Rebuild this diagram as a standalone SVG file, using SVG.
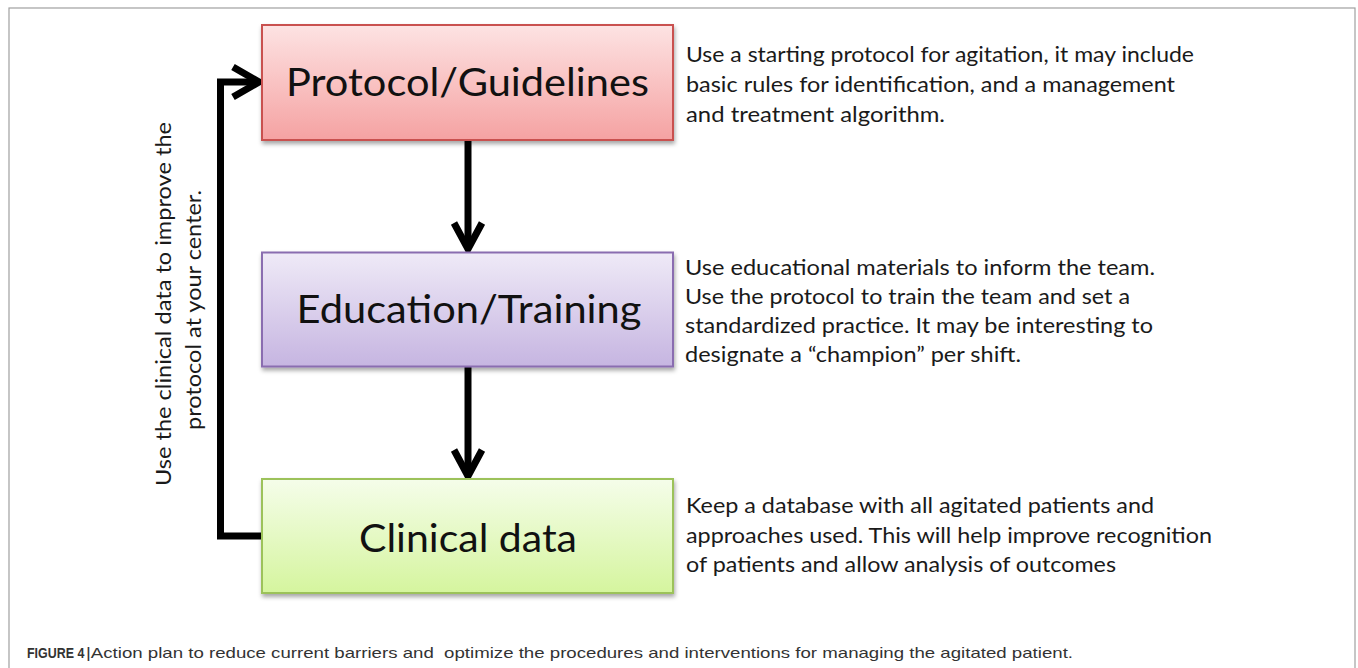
<svg xmlns="http://www.w3.org/2000/svg" width="1358" height="668" viewBox="0 0 1358 668">
<defs>
<linearGradient id="gRed" x1="0" y1="0" x2="0" y2="1"><stop offset="0" stop-color="#fde3e3"/><stop offset="1" stop-color="#f5a2a2"/></linearGradient>
<linearGradient id="gPur" x1="0" y1="0" x2="0" y2="1"><stop offset="0" stop-color="#efeaf7"/><stop offset="1" stop-color="#c6b5e1"/></linearGradient>
<linearGradient id="gGrn" x1="0" y1="0" x2="0" y2="1"><stop offset="0" stop-color="#f5fdea"/><stop offset="1" stop-color="#d5f59e"/></linearGradient>
<filter id="sh" x="-5%" y="-10%" width="115%" height="130%"><feDropShadow dx="1" dy="3" stdDeviation="2" flood-color="#000" flood-opacity="0.35"/></filter>
</defs>
<style>
.box{stroke-width:2}
.lbl{font-family:Lato,"Open Sans","Liberation Sans",sans-serif;font-size:38px;fill:#111;text-anchor:middle}
.desc{font-family:Lato,"Open Sans","Liberation Sans",sans-serif;font-size:22px;fill:#1a1a1a}
.vt{font-family:Lato,"Open Sans","Liberation Sans",sans-serif;font-size:22px;fill:#1a1a1a;text-anchor:middle}
.cap{font-family:"Liberation Sans",Arial,sans-serif;font-size:15px;fill:#333;white-space:pre}
.conn{fill:none;stroke:#000;stroke-width:7;stroke-linejoin:miter}
</style>
<rect width="1358" height="668" fill="#fff"/>
<rect x="9" y="8" width="1346" height="680" fill="none" stroke="#a0a0a0" stroke-width="1.2"/>

<g id="connectors">
<path class="conn" d="M468,140 V248"/>
<path class="conn" d="M454,223 L468,249 L482,223"/>
<path class="conn" d="M468,367 V475"/>
<path class="conn" d="M454,450 L468,476 L482,450"/>
<path class="conn" d="M262,536 H220.5 V82 H257"/>
<path class="conn" d="M233,67 L259,82 L233,97"/>
</g>

<g id="node-protocol">
<rect class="box" x="262" y="25" width="411" height="115" fill="url(#gRed)" stroke="#c9514f" filter="url(#sh)"/>
<text class="lbl" x="467.5" y="96" textLength="363" lengthAdjust="spacingAndGlyphs">Protocol/Guidelines</text>
</g>
<g id="node-education">
<rect class="box" x="262" y="252.5" width="411" height="114" fill="url(#gPur)" stroke="#8a6db0" filter="url(#sh)"/>
<text class="lbl" x="469" y="323" textLength="345" lengthAdjust="spacingAndGlyphs">Education/Training</text>
</g>
<g id="node-clinical">
<rect class="box" x="262" y="479" width="411" height="114" fill="url(#gGrn)" stroke="#9cc25a" filter="url(#sh)"/>
<text class="lbl" x="468" y="552" textLength="218" lengthAdjust="spacingAndGlyphs">Clinical data</text>
</g>

<g id="desc-protocol">
<text class="desc" x="686" y="62" textLength="508" lengthAdjust="spacingAndGlyphs">Use a starting protocol for agitation, it may include</text>
<text class="desc" x="686" y="92" textLength="489" lengthAdjust="spacingAndGlyphs">basic rules for identification, and a management</text>
<text class="desc" x="686" y="122" textLength="259" lengthAdjust="spacingAndGlyphs">and treatment algorithm.</text>
</g>
<g id="desc-education">
<text class="desc" x="685" y="275" textLength="470" lengthAdjust="spacingAndGlyphs">Use educational materials to inform the team.</text>
<text class="desc" x="685" y="304" textLength="445" lengthAdjust="spacingAndGlyphs">Use the protocol to train the team and set a</text>
<text class="desc" x="685" y="333" textLength="468" lengthAdjust="spacingAndGlyphs">standardized practice. It may be interesting to</text>
<text class="desc" x="685" y="362" textLength="336" lengthAdjust="spacingAndGlyphs">designate a “champion” per shift.</text>
</g>
<g id="desc-clinical">
<text class="desc" x="686" y="512.5" textLength="468" lengthAdjust="spacingAndGlyphs">Keep a database with all agitated patients and</text>
<text class="desc" x="686" y="542.5" textLength="526" lengthAdjust="spacingAndGlyphs">approaches used. This will help improve recognition</text>
<text class="desc" x="686" y="572" textLength="430" lengthAdjust="spacingAndGlyphs">of patients and allow analysis of outcomes</text>
</g>

<g id="feedback-label">
<text class="vt" transform="translate(171,304) rotate(-90)" x="0" y="0" textLength="364" lengthAdjust="spacingAndGlyphs">Use the clinical data to improve the</text>
<text class="vt" transform="translate(201,310) rotate(-90)" x="0" y="0" textLength="240" lengthAdjust="spacingAndGlyphs">protocol at your center.</text>
</g>

<g id="caption">
<text class="cap" transform="translate(27,658) scale(0.83,1)" x="0" y="0" font-weight="bold" fill="#1a1a1a">FIGURE 4</text>
<text class="cap" x="86" y="658" xml:space="preserve" textLength="987" lengthAdjust="spacingAndGlyphs">|Action plan to reduce current barriers and  optimize the procedures and interventions for managing the agitated patient.</text>
</g>
</svg>
